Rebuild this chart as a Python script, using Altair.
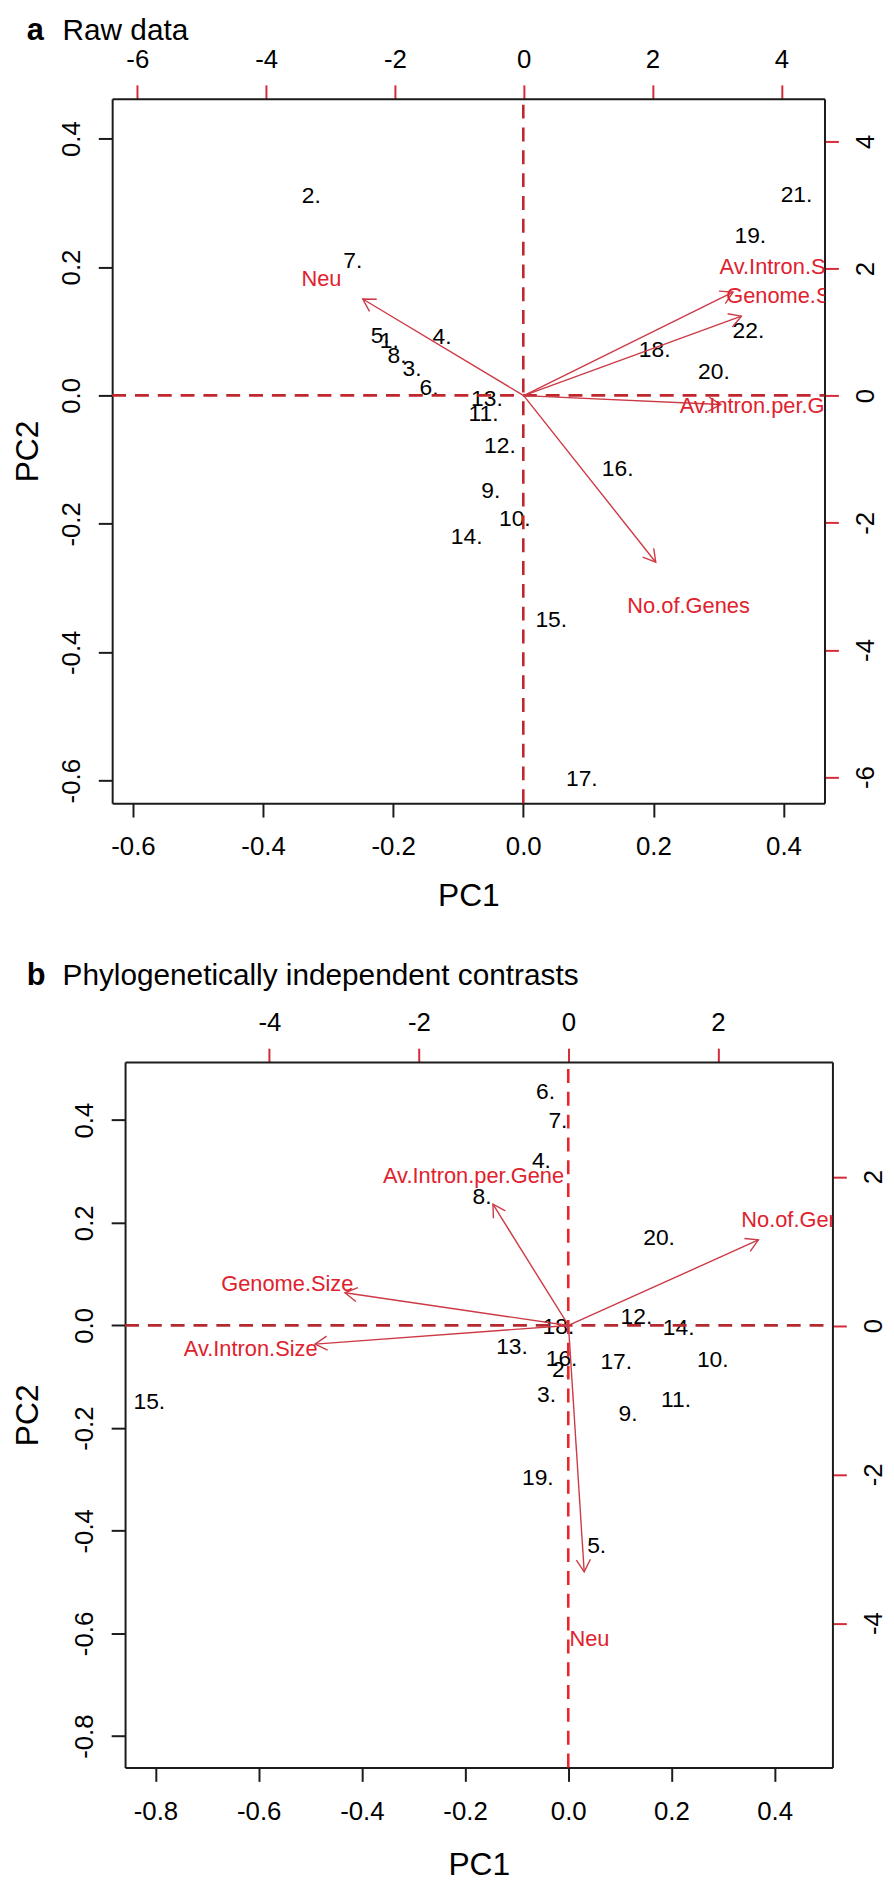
import math
import altair as alt
import pandas as pd

FONT = "Liberation Sans"
BLACK = "#1b1b1b"
RED_TICK = "#d42a3a"
ARROW = "#cc3a46"
VAR_TEXT = "#e0222e"
CHEVRON = "M-1,-0.58L0,0L-1,0.58"

VARS = ["Genome.Size", "No.of.Genes", "Av.Intron.Size", "Av.Intron.per.Gene", "Neu"]

# ---------------- panel a : raw data ----------------
A_OBS = ["1.", "2.", "3.", "4.", "5.", "6.", "7.", "8.", "9.", "10.", "11.",
         "12.", "13.", "14.", "15.", "16.", "17.", "18.", "19.", "20.", "21.", "22."]
A_PC1 = [-0.206, -0.326, -0.171, -0.125, -0.220, -0.145, -0.262, -0.194, -0.050, -0.013, -0.061,
         -0.036, -0.056, -0.087, 0.043, 0.145, 0.090, 0.202, 0.349, 0.293, 0.420, 0.346]
A_PC2 = [0.085, 0.311, 0.041, 0.091, 0.092, 0.012, 0.209, 0.062, -0.149, -0.193, -0.029,
         -0.079, -0.005, -0.221, -0.350, -0.114, -0.598, 0.070, 0.248, 0.036, 0.312, 0.101]
A_VAR_X = [4.17, 2.56, 4.08, 3.83, -3.14]
A_VAR_Y = [1.57, -3.31, 2.03, -0.17, 1.84]
A_TIP_X = [3.38, 2.05, 3.25, 3.06, -2.50]
A_TIP_Y = [1.25, -2.62, 1.63, -0.14, 1.52]
A_XLIM = [-0.632, 0.463]
A_YLIM = [-0.635, 0.462]
A_X2LIM = [-6.39, 4.67]
A_Y2LIM = [-6.41, 4.67]
A_TICKS = [-0.6, -0.4, -0.2, 0.0, 0.2, 0.4]
A_TICKS2 = [-6, -4, -2, 0, 2, 4]

# ---------------- panel b : independent contrasts ----------------
B_OBS = ["2.", "3.", "4.", "5.", "6.", "7.", "8.", "9.", "10.", "11.",
         "12.", "13.", "14.", "15.", "16.", "17.", "18.", "19.", "20."]
B_PC1 = [-0.013, -0.042, -0.052, 0.055, -0.044, -0.020, -0.167, 0.116, 0.280, 0.209,
         0.132, -0.109, 0.214, -0.812, -0.013, 0.093, -0.019, -0.059, 0.176]
B_PC2 = [-0.087, -0.136, 0.320, -0.429, 0.455, 0.399, 0.250, -0.172, -0.067, -0.145,
         0.016, -0.042, -0.006, -0.150, -0.066, -0.072, -0.003, -0.298, 0.171]
B_VAR_X = [-3.76, 3.13, -4.25, -1.27, 0.28]
B_VAR_Y = [0.56, 1.42, -0.32, 2.01, -4.22]
B_TIP_X = [-2.99, 2.54, -3.39, -1.01, 0.21]
B_TIP_Y = [0.44, 1.15, -0.25, 1.63, -3.31]
B_XLIM = [-0.859, 0.512]
B_YLIM = [-0.861, 0.513]
B_X2LIM = [-5.93, 3.53]
B_Y2LIM = [-5.94, 3.54]
B_TICKS = [-0.8, -0.6, -0.4, -0.2, 0.0, 0.2, 0.4]
B_TICKS2 = [-4, -2, 0, 2]


def fmt(dec):
    return "replace(format(datum.value, '.%df'), '\u2212', '-')" % dec


def panel(letter, caption, obs, pc1, pc2, vx, vy, tx, ty, xlim, ylim, x2lim, y2lim,
          ticks, ticks2, W, H, x0, title_base, pc1_base, hcol, vcol):
    xr = [x0, W]
    xs = alt.Scale(domain=xlim, range=xr, nice=False, zero=False)
    ys = alt.Scale(domain=ylim, nice=False, zero=False)
    xs2 = alt.Scale(domain=x2lim, range=xr, nice=False, zero=False)
    ys2 = alt.Scale(domain=y2lim, nice=False, zero=False)

    common = dict(grid=False, labelFont=FONT, labelFontSize=26, labelColor="black",
                  labelOverlap=False, labelFlush=False, labelBound=False,
                  tickSize=14, tickWidth=2, domainColor=BLACK, domainWidth=2)

    ax_bottom = alt.Axis(orient="bottom", values=ticks, labelExpr=fmt(1), title="PC1",
                         titleX=(x0 + W) / 2, titleY=pc1_base, titleBaseline="alphabetic",
                         titleAlign="center", titleFont=FONT, titleFontSize=32,
                         titleFontWeight="normal", titleColor="black",
                         labelAngle=0, labelAlign="center", labelBaseline="top", labelPadding=17,
                         tickColor=BLACK, **common)
    ax_left = alt.Axis(orient="left", values=ticks, labelExpr=fmt(1), title="PC2",
                       titleX=-75.4 - x0, titleY=H / 2, titleAngle=270, titleBaseline="alphabetic",
                       titleAlign="center", titleFont=FONT, titleFontSize=32,
                       titleFontWeight="normal", titleColor="black",
                       labelAngle=270, labelAlign="center", labelBaseline="alphabetic",
                       labelPadding=19, offset=-x0, tickColor=BLACK, **common)
    ax_top = alt.Axis(orient="top", values=ticks2, labelExpr=fmt(0), title=None,
                      labelAngle=0, labelAlign="center", labelBaseline="alphabetic",
                      labelPadding=18, tickColor=RED_TICK, **common)
    ax_right = alt.Axis(orient="right", values=ticks2, labelExpr=fmt(0), title=None,
                        labelAngle=270, labelAlign="center", labelBaseline="top",
                        labelPadding=14, tickColor=RED_TICK, **common)

    df_obs = pd.DataFrame({"pc1": pc1, "pc2": pc2, "label": obs})
    df_h = pd.DataFrame({"pc1": [xlim[0]], "xb": [xlim[1]], "pc2": [0.0]})
    df_v = pd.DataFrame({"pc2": [ylim[0]], "yb": [ylim[1]], "pc1": [0.0]})
    df_t = pd.DataFrame({"letter": [letter], "caption": [caption]})

    ppx = (W - x0) / (x2lim[1] - x2lim[0])
    ppy = H / (y2lim[1] - y2lim[0])
    ang = [(math.degrees(math.atan2(-y * ppy, x * ppx)) + 360.0) % 360.0 for x, y in zip(tx, ty)]
    df_var = pd.DataFrame({"name": VARS, "lx": vx, "ly": vy, "tx": tx, "ty": ty,
                           "ox": [0.0] * len(VARS), "oy": [0.0] * len(VARS), "ang": ang})

    X1 = alt.X("pc1:Q", scale=xs, axis=ax_bottom)
    Y1 = alt.Y("pc2:Q", scale=ys, axis=ax_left)

    pts = alt.Chart(df_obs).mark_text(font=FONT, fontSize=23, color="black", clip=True).encode(
        x=X1, y=Y1, text="label:N")
    hline = alt.Chart(df_h).mark_rule(color=hcol, strokeWidth=2.7, strokeDash=[14, 9]).encode(
        x=X1, x2="xb:Q", y=Y1)
    vline = alt.Chart(df_v).mark_rule(color=vcol, strokeWidth=2.6, strokeDash=[14, 9]).encode(
        y=Y1, y2="yb:Q", x=X1)
    t_letter = alt.Chart(df_t).mark_text(font=FONT, fontSize=31, fontWeight="bold", align="left",
                                         baseline="alphabetic", color="black").encode(
        x=alt.value(-86), y=alt.value(title_base), text="letter:N")
    t_caption = alt.Chart(df_t).mark_text(font=FONT, fontSize=30, align="left",
                                          baseline="alphabetic", color="black").encode(
        x=alt.value(-50), y=alt.value(title_base), text="caption:N")
    primary = alt.layer(pts, hline, vline, t_letter, t_caption)

    X2 = alt.X("tx:Q", scale=xs2, axis=ax_top)
    Y2 = alt.Y("ty:Q", scale=ys2, axis=ax_right)
    arrows = alt.Chart(df_var).mark_rule(color=ARROW, strokeWidth=1.4).encode(
        x=X2, x2="ox:Q", y=Y2, y2="oy:Q")
    heads = alt.Chart(df_var).mark_point(shape=CHEVRON, filled=False, size=600, strokeWidth=1.4,
                                         color=ARROW, opacity=1).encode(
        x=X2, y=Y2, angle=alt.Angle("ang:Q", scale=None))
    vlabels = alt.Chart(df_var).mark_text(font=FONT, fontSize=22, color=VAR_TEXT, clip=True).encode(
        x=alt.X("lx:Q", scale=xs2, axis=ax_top),
        y=alt.Y("ly:Q", scale=ys2, axis=ax_right),
        text="name:N")
    secondary = alt.layer(arrows, heads, vlabels)

    return alt.layer(primary, secondary).resolve_scale(
        x="independent", y="independent").properties(
        width=W, height=H, view=alt.ViewBackground(stroke="transparent", strokeWidth=0))


pa = panel("a", "Raw data", A_OBS, A_PC1, A_PC2, A_VAR_X, A_VAR_Y, A_TIP_X, A_TIP_Y,
           A_XLIM, A_YLIM, A_X2LIM, A_Y2LIM, A_TICKS, A_TICKS2,
           W=718, H=710, x0=0, title_base=-59, pc1_base=103,
           hcol="#c0272d", vcol="#c0272d")
pb = panel("b", "Phylogenetically independent contrasts", B_OBS, B_PC1, B_PC2,
           B_VAR_X, B_VAR_Y, B_TIP_X, B_TIP_Y,
           B_XLIM, B_YLIM, B_X2LIM, B_Y2LIM, B_TICKS, B_TICKS2,
           W=726, H=711, x0=13, title_base=-78, pc1_base=108,
           hcol="#b52a30", vcol="#e8262c")

chart = alt.vconcat(pa, pb, spacing=49).properties(
    padding={"top": 0, "left": 3, "right": 0, "bottom": 0}).configure_view(
    stroke="transparent").configure(font=FONT)

chart.save("out.html", embed_options={"renderer": "svg", "actions": False})
